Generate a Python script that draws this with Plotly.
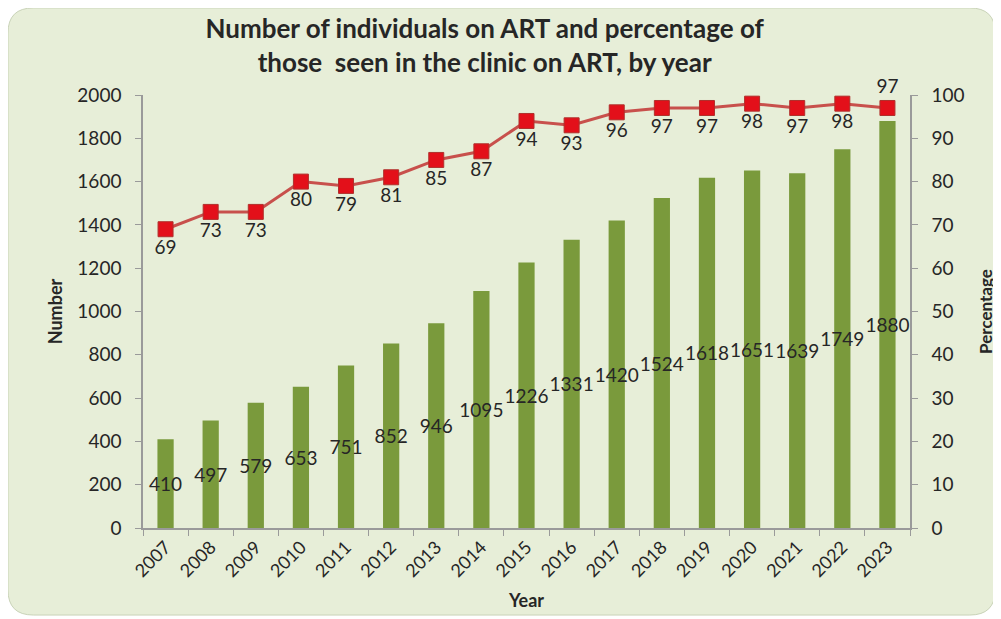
import plotly.graph_objs as go

# Colors
BG_GREEN = "#e7eed8"
BAR_GREEN = "#7a9a3c"
LINE_RED = "#c8504c"
MARKER_RED = "#e3101a"
AXIS_GREY = "#9a9a9a"
TEXT_DARK = "#262626"
FONT = "Lato"

# Data
years = [str(y) for y in range(2007, 2024)]
on_art = [410, 497, 579, 653, 751, 852, 946, 1095, 1226, 1331, 1420, 1524, 1618, 1651, 1639, 1749, 1880]
pct_on_art = [69, 73, 73, 80, 79, 81, 85, 87, 94, 93, 96, 97, 97, 98, 97, 98, 97]

pct_text_pos = ["bottom center"] * (len(years) - 1) + ["top center"]

fig = go.Figure(layout={
    'plot_bgcolor': 'white',
    'paper_bgcolor': 'white',
})

fig.add_trace(go.Bar(
    x=years,
    y=on_art,
    name='Number',
    marker={'color': BAR_GREEN, 'line': {'width': 0}},
    width=0.36,
    text=[str(v) for v in on_art],
    textposition='inside',
    insidetextanchor='middle',
    constraintext='none',
    textangle=0,
    textfont={'family': FONT, 'size': 19, 'color': TEXT_DARK},
    cliponaxis=False,
))

fig.add_trace(go.Scatter(
    x=years,
    y=pct_on_art,
    name='Percentage',
    yaxis='y2',
    mode='lines+markers+text',
    line={'color': LINE_RED, 'width': 3},
    marker={'symbol': 'square', 'size': 15, 'color': MARKER_RED,
            'line': {'color': '#b0302c', 'width': 1}},
    text=[str(v) for v in pct_on_art],
    textposition=pct_text_pos,
    textfont={'family': FONT, 'size': 19, 'color': TEXT_DARK},
    cliponaxis=False,
))

# rounded green panel behind everything (paper units)
rx, ry = 0.033, 0.058
x0, x1, y0, y1 = -0.176, 1.111, -0.201, 1.201
path = (f"M {x0 + rx} {y0} L {x1 - rx} {y0} Q {x1} {y0} {x1} {y0 + ry} "
        f"L {x1} {y1 - ry} Q {x1} {y1} {x1 - rx} {y1} "
        f"L {x0 + rx} {y1} Q {x0} {y1} {x0} {y1 - ry} "
        f"L {x0} {y0 + ry} Q {x0} {y0} {x0 + rx} {y0} Z")

fig.update_layout(
    width=993,
    height=611,
    margin={'l': 135, 'r': 91, 't': 87, 'b': 91, 'autoexpand': False},
    showlegend=False,
    font={'family': FONT, 'color': TEXT_DARK},
    title={
        'text': "<b>Number of individuals on ART and percentage of<br>those  seen in the clinic on ART, by year</b>",
        'x': 0.480, 'xanchor': 'center',
        'y': 0.951, 'yanchor': 'middle',
        'font': {'family': FONT, 'size': 26, 'color': TEXT_DARK},
    },
    shapes=[{
        'type': 'path', 'xref': 'paper', 'yref': 'paper', 'path': path,
        'fillcolor': BG_GREEN, 'line': {'color': '#c9d3b8', 'width': 1},
        'layer': 'below',
    }],
    xaxis={
        'title': {'text': '<b>Year</b>', 'font': {'size': 18}, 'standoff': 14},
        'automargin': False,
        'range': [-0.5, len(years) - 0.5],
        'tickangle': -45,
        'tickfont': {'size': 18},
        'showline': True, 'linecolor': AXIS_GREY, 'linewidth': 1.5,
        'ticks': 'outside', 'tickcolor': AXIS_GREY, 'ticklen': 6,
        'tickson': 'boundaries',
        'showgrid': False,
    },
    yaxis={
        'title': {'text': '<b>Number</b>', 'font': {'size': 18}, 'standoff': 10},
        'automargin': False,
        'range': [0, 2000],
        'dtick': 200,
        'tickfont': {'size': 19},
        'ticklabelstandoff': 10,
        'showline': True, 'linecolor': AXIS_GREY, 'linewidth': 1.5,
        'ticks': 'outside', 'tickcolor': AXIS_GREY, 'ticklen': 6,
        'showgrid': False, 'zeroline': False,
    },
    yaxis2={
        'title': {'text': '<b>Percentage</b>', 'font': {'size': 17}, 'standoff': 16},
        'automargin': False,
        'overlaying': 'y',
        'side': 'right',
        'range': [0, 100],
        'dtick': 10,
        'tickfont': {'size': 19},
        'ticklabelstandoff': 10,
        'showline': True, 'linecolor': AXIS_GREY, 'linewidth': 1.5,
        'ticks': 'outside', 'tickcolor': AXIS_GREY, 'ticklen': 6,
        'showgrid': False, 'zeroline': False,
    },
)

fig.write_html("out.html")
